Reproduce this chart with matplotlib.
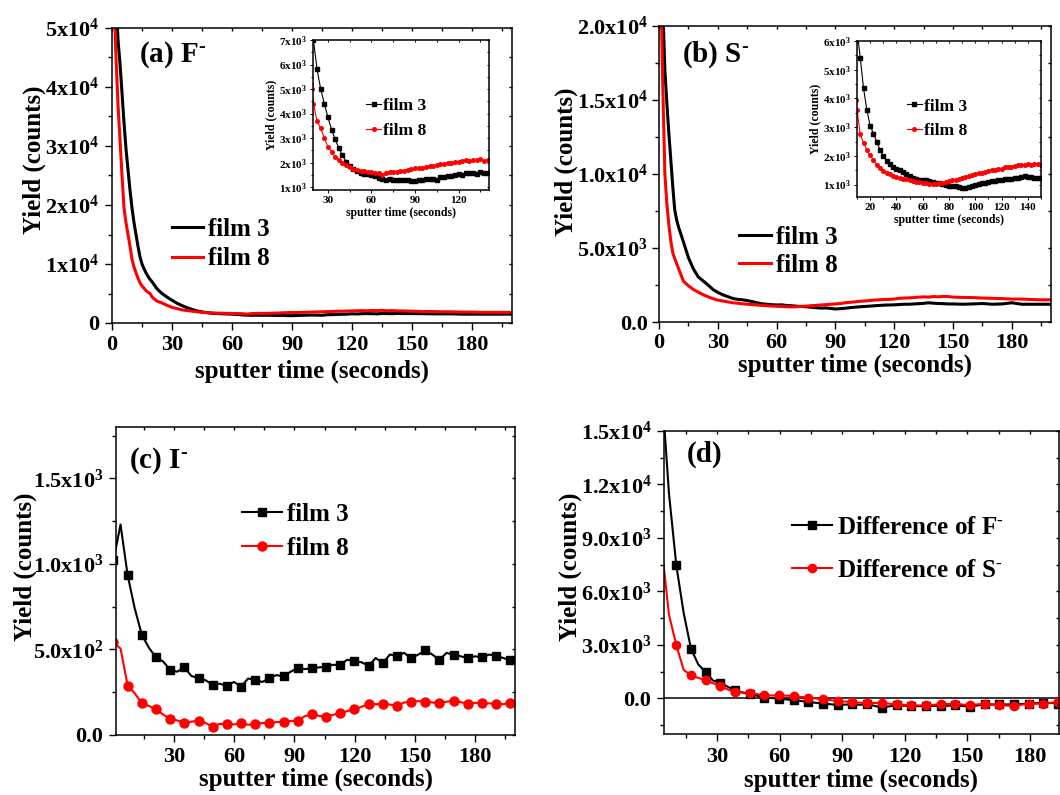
import numpy as np
import matplotlib
matplotlib.use('Agg')
import matplotlib.pyplot as plt
from matplotlib.ticker import FixedLocator, MultipleLocator, FixedFormatter

plt.rcParams.update({
    'font.family': ['Liberation Serif', 'DejaVu Serif'],
    'font.weight': 'bold',
    'axes.labelweight': 'bold',
    'mathtext.fontset': 'custom',
    'mathtext.rm': 'Liberation Serif:bold',
    'mathtext.it': 'Liberation Serif:bold:italic',
    'mathtext.bf': 'Liberation Serif:bold',
    'mathtext.default': 'rm',
    'axes.linewidth': 1.1,
})

# ---------------- data ----------------
# (a) F-  : sputter time (s) and yield (counts)
t_a = np.concatenate([np.arange(1, 20, 1.0), np.arange(20, 145, 2.5), np.arange(145, 201, 5.0)])
a_film3 = [70000, 56000, 48000, 44000, 39000, 34000, 29500, 26000, 22500, 19500, 17000, 15000, 13000,
           11200, 10000, 9200, 8500, 7900, 7400,
           7000, 5800, 5000, 4400, 3850, 3350, 2950, 2600, 2300, 2050, 1880, 1750, 1650, 1600, 1560,
           1530, 1500, 1450, 1380, 1330, 1310, 1320, 1300, 1310, 1300, 1280, 1290, 1250, 1240, 1280,
           1300, 1330, 1350, 1340, 1300, 1400, 1420, 1450, 1480, 1500, 1560, 1520, 1580, 1600, 1570,
           1550, 1620, 1600, 1580, 1620,
           1600, 1600, 1580, 1550, 1550, 1550, 1500, 1500, 1500, 1500, 1500, 1500]
a_film8 = [55000, 45000, 37000, 31000, 25000, 19500, 17000, 15000, 13000, 10800, 9500, 8500, 7600,
           6800, 6300, 5900, 5500, 5200, 5000,
           4400, 3700, 3400, 3000, 2650, 2450, 2220, 2120, 2000, 1900, 1810, 1750, 1700, 1670, 1650,
           1630, 1620, 1600, 1580, 1500, 1600, 1630, 1620, 1640, 1660, 1680, 1720, 1760, 1780, 1770,
           1800, 1820, 1850, 1880, 1900, 1930, 1960, 2000, 2000, 2030, 2050, 2080, 2100, 2070, 2120,
           2100, 2150, 2080, 2100, 2050,
           2050, 2000, 1950, 1950, 1900, 1900, 1850, 1850, 1800, 1800, 1800, 1800]

# (b) S-
t_b = np.concatenate([np.arange(1, 10, 1.0), np.arange(10, 150, 2.5), np.arange(150, 201, 5.0)])
b_film3 = [30000, 21000, 17000, 14800, 12800, 11000, 9200, 7600, 6900,
           6400, 5400, 4350, 3600, 3050, 2780, 2500, 2200, 2000, 1840, 1720, 1600, 1530, 1500, 1450,
           1380, 1300, 1230, 1200, 1170, 1150, 1160, 1120, 1100, 1070, 1050, 1030, 1000, 970, 940,
           950, 920, 880, 900, 930, 970, 1000, 1030, 1050, 1070, 1100, 1120, 1140, 1150, 1160, 1180,
           1200, 1200, 1220, 1240, 1260, 1300, 1270, 1250, 1240, 1220,
           1220, 1200, 1220, 1250, 1200, 1220, 1300, 1200, 1200, 1200, 1200]
b_film8 = [22000, 15500, 10000, 8000, 6600, 5500, 4700, 4300, 3950,
           3600, 2750, 2450, 2200, 2020, 1850, 1700, 1580, 1480, 1420, 1360, 1300, 1270, 1230, 1200,
           1180, 1150, 1120, 1100, 1080, 1060, 1050, 1030, 1020, 1030, 1050, 1070, 1100, 1120, 1150,
           1170, 1200, 1220, 1250, 1300, 1330, 1360, 1400, 1420, 1450, 1480, 1500, 1520, 1530, 1550,
           1600, 1620, 1630, 1650, 1680, 1700, 1680, 1720, 1700, 1730, 1720,
           1680, 1660, 1650, 1620, 1600, 1580, 1550, 1550, 1520, 1500, 1500]

# (c) I-
t_c = np.arange(58) * 3.535 - 0.27
c_film3 = [1020, 1230, 934, 740, 586, 510, 453, 430, 381, 370, 395, 345, 332, 320, 293, 300, 287, 310,
           283, 330, 322, 310, 332, 350, 342, 370, 391, 385, 391, 395, 400, 410, 410, 440, 430, 425,
           404, 450, 420, 470, 463, 480, 449, 470, 494, 470, 439, 480, 469, 460, 449, 460, 453, 470,
           463, 450, 436, 450]
c_film8 = [541, 505, 289, 244, 186, 170, 150, 120, 94, 85, 72, 78, 84, 70, 49, 65, 64, 62, 68, 60, 64,
           70, 72, 75, 78, 82, 84, 110, 123, 112, 107, 118, 127, 140, 150, 165, 182, 180, 182, 178,
           170, 190, 195, 198, 195, 190, 186, 195, 199, 192, 182, 188, 186, 185, 182, 180, 189, 175]

# (d) differences
t_d = np.arange(56) * 3.52 + 3.46
d_diffF = [17500, 11500, 7463, 4800, 2780, 1900, 1474, 1000, 877, 650, 448, 330, 224, 150, 37, 20,
           -19, -60, -112, -150, -205, -250, -299, -330, -373, -350, -336, -360, -336, -420, -522,
           -450, -392, -410, -429, -440, -429, -420, -429, -410, -392, -430, -466, -400, -336, -350,
           -336, -340, -336, -320, -299, -270, -243, -260, -290, -280]
d_diffS = [8500, 4700, 2985, 1600, 1287, 1150, 1007, 850, 690, 500, 354, 330, 317, 240, 168, 160,
           168, 150, 130, 80, 37, 0, -56, -100, -149, -180, -205, -240, -280, -260, -243, -300,
           -336, -360, -392, -400, -392, -360, -336, -320, -299, -350, -392, -340, -299, -340,
           -373, -400, -429, -360, -299, -300, -299, -250, -205, -200]

# tick labels
a_yticks = [0, 1e4, 2e4, 3e4, 4e4, 5e4]
a_yticklabels = ['0', '1x10$^{4}$', '2x10$^{4}$', '3x10$^{4}$', '4x10$^{4}$', '5x10$^{4}$']
b_yticks = [0, 5e3, 1e4, 1.5e4, 2e4]
b_yticklabels = ['0.0', '5.0x10$^{3}$', '1.0x10$^{4}$', '1.5x10$^{4}$', '2.0x10$^{4}$']
c_yticks = [0, 500, 1000, 1500]
c_yticklabels = ['0.0', '5.0x10$^{2}$', '1.0x10$^{3}$', '1.5x10$^{3}$']
d_yticks = [0, 3e3, 6e3, 9e3, 1.2e4, 1.5e4]
d_yticklabels = ['0.0', '3.0x10$^{3}$', '6.0x10$^{3}$', '9.0x10$^{3}$', '1.2x10$^{4}$', '1.5x10$^{4}$']
ia_yticks = [1e3, 2e3, 3e3, 4e3, 5e3, 6e3, 7e3]
ia_yticklabels = ['%dx10$^{3}$' % v for v in range(1, 8)]
ib_yticks = [1e3, 2e3, 3e3, 4e3, 5e3, 6e3]
ib_yticklabels = ['%dx10$^{3}$' % v for v in range(1, 7)]
x_ticks_ab = [0, 30, 60, 90, 120, 150, 180]
x_ticks_cd = [30, 60, 90, 120, 150, 180]
ia_xticks = [30, 60, 90, 120]
ib_xticks = [20, 40, 60, 80, 100, 120, 140]

RED = '#ff0000'
W, H = 1060, 795
fig = plt.figure(figsize=(W / 100, H / 100), dpi=100)


def px_axes(l, t, r, b):
    return fig.add_axes([l / W, 1 - b / H, (r - l) / W, (b - t) / H])


def style(ax, xt, xminor, yt, ytl, yminor, fs, maj=5, mnr=3, w=1.0, inner=2.5, pad=3):
    ax.xaxis.set_major_locator(FixedLocator(xt))
    ax.xaxis.set_major_formatter(FixedFormatter([str(v) for v in xt]))
    ax.xaxis.set_minor_locator(MultipleLocator(xminor))
    ax.yaxis.set_major_locator(FixedLocator(yt))
    ax.yaxis.set_major_formatter(FixedFormatter(ytl))
    ax.yaxis.set_minor_locator(MultipleLocator(yminor))
    ax.tick_params(which='both', direction='out', labelsize=fs, width=w, pad=pad)
    ax.tick_params(which='major', length=maj)
    ax.tick_params(which='minor', length=mnr)
    for side in ('top', 'right'):
        sec = ax.secondary_xaxis('top') if side == 'top' else ax.secondary_yaxis('right')
        axis = sec.xaxis if side == 'top' else sec.yaxis
        axis.set_major_locator(FixedLocator(xt if side == 'top' else yt))
        axis.set_minor_locator(MultipleLocator(xminor if side == 'top' else yminor))
        sec.tick_params(which='both', direction='in', length=inner, width=w,
                        labeltop=False, labelright=False)
        for s in sec.spines.values():
            s.set_visible(False)


LEG = dict(loc='upper left', frameon=False, borderaxespad=0, borderpad=0)

# ---------- (a) ----------
ax = px_axes(112, 28, 512, 323)
ax.plot(t_a, a_film3, color='k', lw=2.2, label='film 3')
ax.plot(t_a, a_film8, color=RED, lw=2.2, label='film 8')
ax.set_xlim(0, 200)
ax.set_ylim(0, 5e4)
style(ax, x_ticks_ab, 15, a_yticks, a_yticklabels, 5e3, 16, pad=4)
ax.set_xlabel('sputter time (seconds)', fontsize=18)
ax.set_ylabel('Yield (counts)', fontsize=18)
ax.xaxis.set_label_coords(0.5, -0.125)
ax.yaxis.set_label_coords(-0.165, 0.5525)
ax.text(0.0675, 0.885, r'(a) F$^{\text{-}}$', transform=ax.transAxes, fontsize=21)
ax.legend(bbox_to_anchor=(0.15, 0.356), fontsize=18, handlelength=1.25, handletextpad=0.2,
          labelspacing=0.26, **LEG)

ia = px_axes(313, 40, 489, 190)
ia.plot(t_a, a_film3, color='k', lw=0.8, marker='s', ms=2.6, label='film 3')
ia.plot(t_a, a_film8, color=RED, lw=0.8, marker='o', ms=2.6, label='film 8')
ia.set_xlim(19.7, 141)
ia.set_ylim(890, 7000)
style(ia, ia_xticks, 15, ia_yticks, ia_yticklabels, 500, 8, maj=2.5, mnr=1.5, w=0.7, inner=1.5, pad=2)
ia.set_xlabel('sputter time (seconds)', fontsize=8.5, labelpad=1)
ia.set_ylabel('Yield (counts)', fontsize=8.5, labelpad=1)
ia.legend(bbox_to_anchor=(0.3, 0.613), fontsize=12.5, handlelength=0.9, handletextpad=0.1,
          labelspacing=0.5, **LEG)

# ---------- (b) ----------
bx = px_axes(659, 26, 1051, 322)
bx.plot(t_b, b_film3, color='k', lw=2.2, label='film 3')
bx.plot(t_b, b_film8, color=RED, lw=2.2, label='film 8')
bx.set_xlim(0, 200)
bx.set_ylim(0, 2e4)
style(bx, x_ticks_ab, 15, b_yticks, b_yticklabels, 2.5e3, 16, pad=3)
bx.set_xlabel('sputter time (seconds)', fontsize=18)
bx.set_ylabel('Yield (counts)', fontsize=18)
bx.xaxis.set_label_coords(0.5, -0.105)
bx.yaxis.set_label_coords(-0.2066, 0.54)
bx.text(0.059, 0.878, r'(b) S$^{\text{-}}$', transform=bx.transAxes, fontsize=21)
bx.legend(bbox_to_anchor=(0.205, 0.326), fontsize=18, handlelength=1.25, handletextpad=0.2,
          labelspacing=0.22, **LEG)

ib = px_axes(857, 41, 1041, 197)
ib.plot(t_b, b_film3, color='k', lw=0.8, marker='s', ms=2.6, label='film 3')
ib.plot(t_b, b_film8, color=RED, lw=0.8, marker='o', ms=2.6, label='film 8')
ib.set_xlim(10, 150)
ib.set_ylim(570, 6000)
style(ib, ib_xticks, 10, ib_yticks, ib_yticklabels, 500, 8, maj=2.5, mnr=1.5, w=0.7, inner=1.5, pad=2)
ib.set_xlabel('sputter time (seconds)', fontsize=8.5, labelpad=1)
ib.set_ylabel('Yield (counts)', fontsize=8.5, labelpad=1)
ib.legend(bbox_to_anchor=(0.27, 0.632), fontsize=12.5, handlelength=0.9, handletextpad=0.1,
          labelspacing=0.5, **LEG)

# ---------- (c) ----------
cx = px_axes(116, 427, 515, 735)
cx.plot(t_c, c_film3, color='k', lw=1.5, marker='s', ms=6, markevery=2, label='film 3')
cx.plot(t_c, c_film8, color=RED, lw=1.5, marker='o', ms=6.5, markevery=2, label='film 8')
cx.set_xlim(1, 200)
cx.set_ylim(0, 1800)
style(cx, x_ticks_cd, 15, c_yticks, c_yticklabels, 250, 16, pad=4)
cx.set_xlabel('sputter time (seconds)', fontsize=18)
cx.set_ylabel('Yield (counts)', fontsize=18)
cx.xaxis.set_label_coords(0.5, -0.106)
cx.yaxis.set_label_coords(-0.197, 0.545)
cx.text(0.033, 0.867, r'(c) I$^{\text{-}}$', transform=cx.transAxes, fontsize=21)
cx.legend(bbox_to_anchor=(0.315, 0.754), fontsize=18, handlelength=1.6, handletextpad=0.2,
          labelspacing=0.44, **LEG)

# ---------- (d) ----------
dx = px_axes(664, 431, 1059, 734)
dx.axhline(0, color='k', lw=1.1)
dx.plot(t_d, d_diffF, color='k', lw=1.5, marker='s', ms=5.5, markevery=slice(2, None, 2),
        label=r'Difference of F$^{\text{-}}$')
dx.plot(t_d, d_diffS, color=RED, lw=1.5, marker='o', ms=6, markevery=slice(2, None, 2),
        label=r'Difference of S$^{\text{-}}$')
dx.set_xlim(4.6, 194)
dx.set_ylim(-2000, 1.5e4)
style(dx, x_ticks_cd, 15, d_yticks, d_yticklabels, 1.5e3, 16, pad=4)
dx.set_xlabel('sputter time (seconds)', fontsize=18)
dx.set_ylabel('Yield (counts)', fontsize=18)
dx.xaxis.set_label_coords(0.5, -0.115)
dx.yaxis.set_label_coords(-0.207, 0.551)
dx.text(0.058, 0.90, '(d)', transform=dx.transAxes, fontsize=21)
dx.legend(bbox_to_anchor=(0.325, 0.72), fontsize=18, handlelength=1.6, handletextpad=0.2,
          labelspacing=0.8, **LEG)

fig.savefig('out.png', dpi=100)
